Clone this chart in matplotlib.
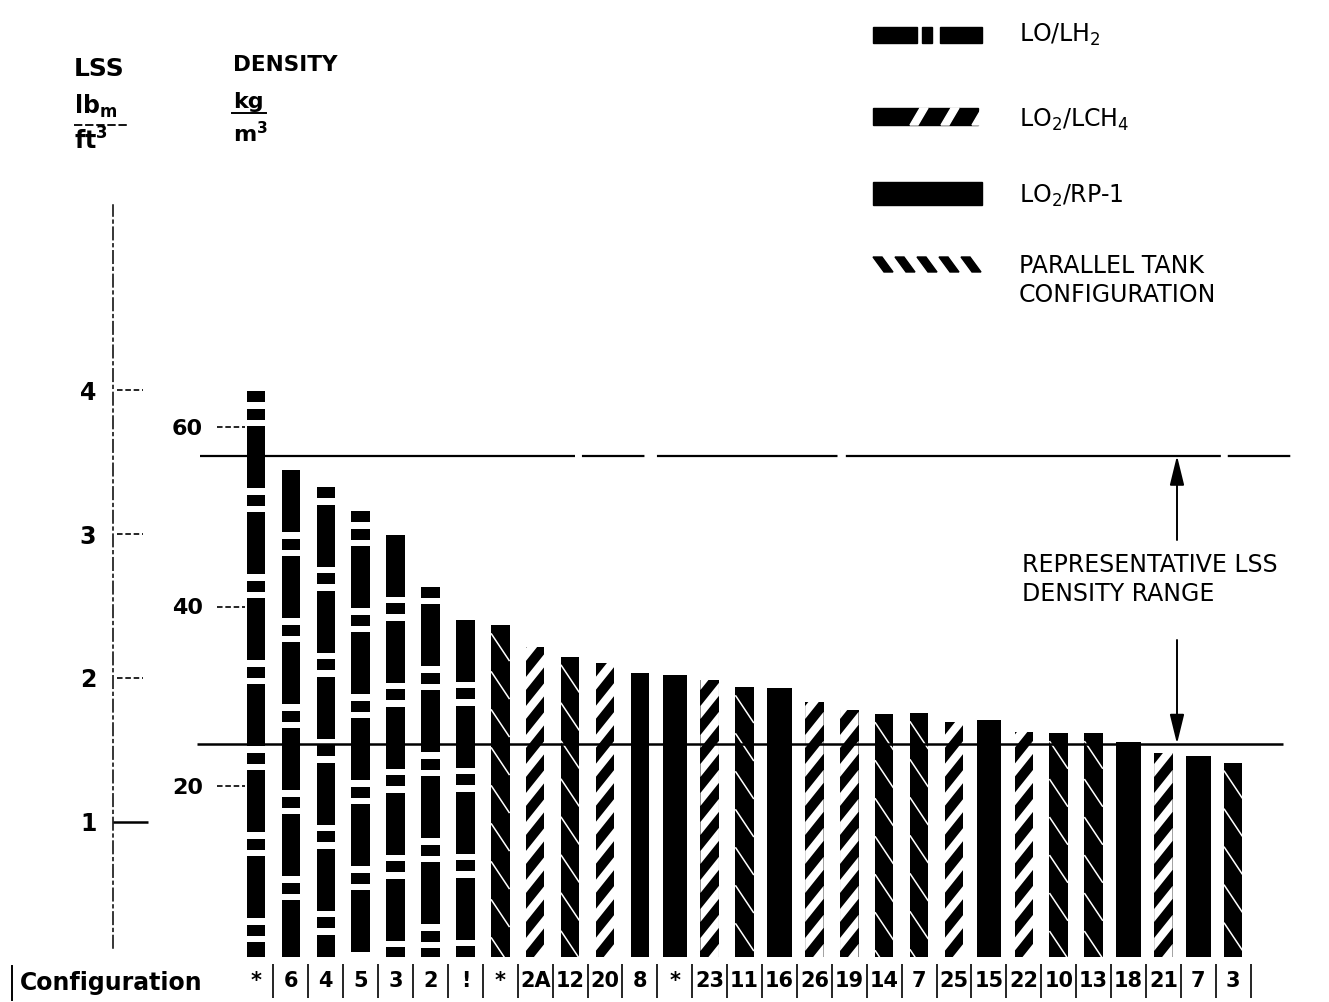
import matplotlib
matplotlib.use('Agg')
import matplotlib.pyplot as plt
import matplotlib.patches as mpatches
import matplotlib.transforms as mtransforms
import numpy as np

plt.rcParams['font.family'] = ['DejaVu Sans']
plt.rcParams['lines.scale_dashes'] = False

# configuration number printed under each bar, left to right
configs = ['*', '6', '4', '5', '3', '2', '!', '*', '2A', '12', '20', '8', '*',
           '23', '11', '16', '26', '19', '14', '7', '25', '15', '22', '10',
           '13', '18', '21', '7', '3']
# propellant of each bar: lh2, ch4, rp1 or par (parallel tank)
kinds = ['lh2'] * 7 + ['par', 'ch4', 'par', 'ch4', 'rp1', 'rp1', 'ch4', 'par',
                       'rp1', 'ch4', 'ch4', 'par', 'par', 'ch4', 'rp1', 'ch4',
                       'par', 'par', 'rp1', 'ch4', 'rp1', 'par']
# LSS density, kg/m3
density = [64.0, 55.2, 53.3, 50.6, 48.0, 42.2, 38.5, 37.9, 35.5, 34.4, 33.7,
           32.6, 32.4, 31.8, 31.0, 30.9, 29.4, 28.5, 28.0, 28.1, 27.1, 27.4,
           26.0, 25.9, 25.9, 24.9, 23.7, 23.3, 22.6]
density_ticks = [20, 40, 60]
lss_ticks = [1, 2, 3, 4]            # lbm/ft3
range_lo, range_hi = 24.7, 56.8     # representative LSS density range, kg/m3
legend_labels = ['LO/LH$_2$', 'LO$_2$/LCH$_4$', 'LO$_2$/RP-1',
                 'PARALLEL TANK\nCONFIGURATION']

KG_PER_LB = 16.0185                 # kg/m3 per lbm/ft3

# page layout, in pixels of the 1329x1002 output
W, H, DPI = 1329, 1002, 100
X0, DX = 256.0, 34.9                # first bar column, step between bars
Y0, DY = 965.5, 8.975               # row of zero density, pixels per kg/m3
BASE = 0.95                         # bars start just above zero
WIDE = {12, 15, 21, 25, 27}         # the fatter solid bars
LEAD_SHORTS = {0: 2, 2: 1, 3: 2, 5: 1}

# pattern sizes (pixels)
LONG, SHORT, GAP = 62, 11, 6.5
CH4_PERIOD, CH4_WHITE = 29, 13
PAR_PERIOD = 38


def pxx(x):
    return (x - X0) / DX


def pxy(y):
    return (Y0 - y) / DY


fig = plt.figure(figsize=(W / DPI, H / DPI), dpi=DPI)
ax = fig.add_axes([0, 0, 1, 1])
pix = mtransforms.Affine2D().scale(1.0 / W, -1.0 / H).translate(0, 1) + fig.transFigure

xs = np.arange(len(density))
widths = [0.7 if i in WIDE else 0.53 for i in xs]
bars = ax.bar(xs, np.array(density) - BASE, width=widths, bottom=BASE,
              color='black', linewidth=0)


def white(artist, clip):
    artist.set_facecolor('white')
    artist.set_edgecolor('none')
    ax.add_patch(artist)
    artist.set_clip_path(clip)


# fill patterns of the bars
for i, (bar, kind) in enumerate(zip(bars, kinds)):
    x0, w = bar.get_x(), bar.get_width()
    x1 = x0 + w
    y0 = bar.get_y()
    top = y0 + bar.get_height()
    hpx, wpx = bar.get_height() * DY, w * DX
    if kind == 'lh2':
        cur = 0.0
        for seg in [SHORT] * LEAD_SHORTS.get(i, 0) + [LONG, SHORT] * 20:
            cur += seg
            if cur >= hpx:
                break
            white(mpatches.Rectangle((x0, top - (cur + GAP) / DY), w, GAP / DY), bar)
            cur += GAP
    elif kind == 'ch4':
        rise = 1.25 * wpx
        for k in range(-2, int(hpx / CH4_PERIOD) + 2):
            yb = k * CH4_PERIOD + 6
            pts = [(x0, y0 + yb / DY), (x1, y0 + (yb + rise) / DY),
                   (x1, y0 + (yb + rise + CH4_WHITE) / DY),
                   (x0, y0 + (yb + CH4_WHITE) / DY)]
            white(mpatches.Polygon(pts, closed=True), bar)
    elif kind == 'par':
        drop = 1.5 * wpx
        for k in range(int(hpx / PAR_PERIOD) + 1):
            yt = top - (8 + k * PAR_PERIOD) / DY
            ln, = ax.plot([x0, x1], [yt, yt - drop / DY], color='white', lw=1.1,
                          solid_capstyle='butt')
            ln.set_clip_path(bar)

# representative density range
ax.hlines(range_hi, pxx(200), pxx(1295), color='black', lw=1.6,
          linestyles=[(0, (270, 5, 45, 9, 130, 6))])
ax.hlines(range_lo, pxx(197), pxx(1283), color='black', lw=1.8)
arrow = dict(arrowstyle='-|>,head_length=0.9,head_width=0.22', color='black',
             lw=1.4, shrinkA=0, shrinkB=0, mutation_scale=20)
ax.annotate('', xy=(pxx(1177), range_hi), xytext=(pxx(1177), pxy(540)),
            arrowprops=arrow)
ax.annotate('', xy=(pxx(1177), range_lo), xytext=(pxx(1177), pxy(640)),
            arrowprops=arrow)
ax.text(1022, 565, 'REPRESENTATIVE LSS', transform=pix, fontsize=17, va='center')
ax.text(1022, 594, 'DENSITY RANGE', transform=pix, fontsize=17, va='center')

# density axis (kg/m3)
for s in ax.spines.values():
    s.set_visible(False)
ax.spines['left'].set_position(('data', pxx(207)))
ax.set_xticks([])
ax.set_yticks(density_ticks, labels=[str(t) for t in density_ticks],
              fontweight='bold')
ax.tick_params(axis='y', length=0, pad=3, labelsize=16)
ax.hlines(density_ticks, pxx(217), pxx(245), color='black', lw=1.2,
          linestyles=[(0, (4, 2))])

# LSS axis (lbm/ft3)
sec = ax.secondary_yaxis(113 / W, functions=(lambda d: d / KG_PER_LB,
                                             lambda l: l * KG_PER_LB))
sec.set_yticks(lss_ticks, labels=[str(t) for t in lss_ticks], fontweight='bold')
sec.tick_params(length=0, pad=12, labelsize=17)
sec.spines['left'].set_linestyle((0, (9, 3, 2, 3)))
sec.spines['left'].set_linewidth(1.1)
sec.spines['left'].set_bounds(pxy(948) / KG_PER_LB, pxy(205) / KG_PER_LB)
lss_kg = [t * KG_PER_LB for t in lss_ticks]
ax.hlines(lss_kg[1:], pxx(117), pxx(143), color='black', lw=1.2,
          linestyles=[(0, (4, 2))])
ax.hlines(lss_kg[0], pxx(113), pxx(148), color='black', lw=1.8)

# axis headings
ax.text(74, 69, 'LSS', transform=pix, fontsize=18, fontweight='bold', va='center')
ax.text(74, 106, 'lb$_\\mathregular{m}$', transform=pix, fontsize=17,
        fontweight='bold', va='center')
ax.plot([74, 128], [125, 125], transform=pix, color='black', lw=1.3,
        linestyle=(0, (6, 2)))
ax.text(74, 141, 'ft$^\\mathregular{3}$', transform=pix, fontsize=17,
        fontweight='bold', va='center')
ax.text(233, 65, 'DENSITY', transform=pix, fontsize=15.5, fontweight='bold',
        va='center')
ax.text(233, 102, 'kg', transform=pix, fontsize=16, fontweight='bold', va='center')
ax.plot([232, 266], [113, 113], transform=pix, color='black', lw=1.4)
ax.text(233, 134, 'm$^\\mathregular{3}$', transform=pix, fontsize=16,
        fontweight='bold', va='center')

# configuration row
ax.text(20, 983, 'Configuration', transform=pix, fontsize=17, fontweight='bold',
        va='center')
ax.plot([12, 12], [966, 1000], transform=pix, color='black', lw=1.4)
for x, lab in zip(xs, configs):
    ax.text(x, pxy(981), lab, ha='center', va='center', fontsize=15,
            fontweight='bold')
ax.vlines(xs + 0.5, pxy(998), pxy(964), color='black', lw=1.2)

# legend, drawn by hand to show the fill patterns
LX, LW = 873, 109
cur = LX
for seg, fill in [(44, True), (5, False), (10, True), (8, False), (42, True)]:
    if fill:
        ax.add_patch(mpatches.Rectangle((cur, 27), seg, 16, transform=pix,
                                        color='black'))
    cur += seg
ax.add_patch(mpatches.Rectangle((LX, 108), LW - 4, 17, transform=pix, color='black'))
for c in [920, 951, 982]:
    ax.add_patch(mpatches.Polygon([(c - 10, 125), (c - 2, 125), (c + 8, 108),
                                   (c, 108)], transform=pix, color='white'))
ax.add_patch(mpatches.Rectangle((LX, 182), LW, 23, transform=pix, color='black'))
for k in range(5):
    a = LX + 22 * k
    ax.add_patch(mpatches.Polygon([(a, 257), (a + 9, 257), (a + 20, 272),
                                   (a + 11, 272)], transform=pix, color='black'))
for lab, base in zip(legend_labels, [42, 127, 203, 302]):
    ax.text(1019, base, lab, transform=pix, fontsize=17, va='baseline',
            linespacing=1.25)

ax.set_xlim(pxx(0), pxx(W))
ax.set_ylim(pxy(H), pxy(0))

fig.savefig('out.png', dpi=DPI, facecolor='white')
